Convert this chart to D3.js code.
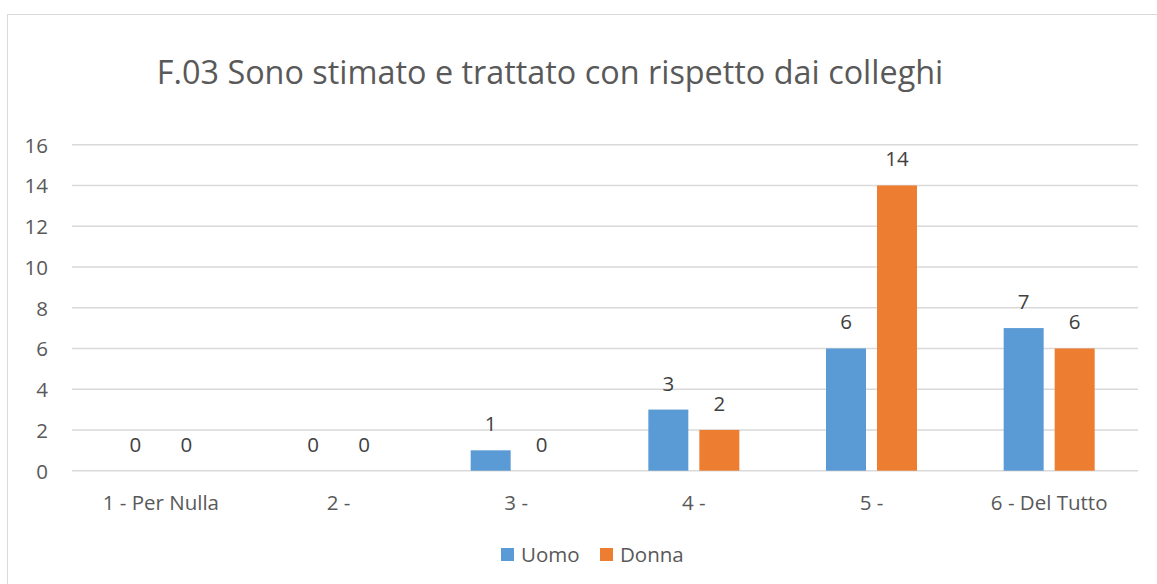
<!DOCTYPE html>
<html>
<head>
<meta charset="utf-8">
<script src="https://cdn.jsdelivr.net/npm/d3@7"></script>
<style>
  html, body { margin: 0; padding: 0; background: #fff; }
  svg { display: block; }
  text { font-family: "Open Sans", "Noto Sans", sans-serif; }
</style>
</head>
<body>
<svg id="chart" width="1157" height="584"></svg>
<script>
// Survey answers by gender
const categories = ["1 - Per Nulla", "2 -", "3 -", "4 -", "5 -", "6 - Del Tutto"];
const seriesNames = ["Uomo", "Donna"];
const uomo = [0, 0, 1, 3, 6, 7];
const donna = [0, 0, 0, 2, 14, 6];
const yTicks = [0, 2, 4, 6, 8, 10, 12, 14, 16];
const title = "F.03 Sono stimato e trattato con rispetto dai colleghi";

const colors = { Uomo: "#5B9BD5", Donna: "#ED7D31" };
const values = { Uomo: uomo, Donna: donna };
const FONT = "Open Sans, Noto Sans, sans-serif";
const LABEL_SIZE = 20.5;

const svg = d3.select("#chart");
const W = 1157, H = 584;

// outer frame of the chart area
svg.append("rect")
  .attr("x", 7.5).attr("y", 14.5)
  .attr("width", W + 10).attr("height", H + 10)
  .attr("fill", "#fff").attr("stroke", "#d9d9d9").attr("stroke-width", 1);

const plot = { left: 72, right: 1138, top: 144.7, bottom: 470.7 };

const x = d3.scaleBand().domain(categories).range([plot.left, plot.right]).paddingInner(0).paddingOuter(0);
const barW = 40, gap = 11;
const xs = d3.scaleOrdinal().domain(seriesNames)
  .range([-(barW + gap) / 2, (barW + gap) / 2]);

const y = d3.scaleLinear().domain([0, 16]).range([plot.bottom, plot.top]);

// title, sized to span the same width as the heading line
const t = svg.append("text")
  .attr("x", 550).attr("y", 84)
  .attr("text-anchor", "middle")
  .attr("fill", "#595959")
  .attr("font-size", 29)
  .text(title);
const tw = t.node().getComputedTextLength();
t.attr("font-size", 29 * 787 / tw);

// horizontal gridlines
svg.append("g")
  .selectAll("line")
  .data(yTicks)
  .join("line")
  .attr("x1", plot.left).attr("x2", plot.right)
  .attr("y1", d => y(d)).attr("y2", d => y(d))
  .attr("stroke", "#d9d9d9").attr("stroke-width", 1.4);

// y axis labels
const yAxis = d3.axisLeft(y).tickValues(yTicks).tickSize(0).tickPadding(0);
const gy = svg.append("g").attr("transform", `translate(${plot.left - 24},0)`).call(yAxis);
gy.select(".domain").remove();
gy.selectAll("text")
  .attr("font-size", LABEL_SIZE).attr("fill", "#595959")
  .attr("font-family", FONT)
  .attr("dy", "0.36em");

// x axis labels
const xAxis = d3.axisBottom(x).tickSize(0).tickPadding(0);
const gx = svg.append("g").attr("transform", `translate(0,${plot.bottom + 39})`).call(xAxis);
gx.select(".domain").remove();
gx.selectAll("text")
  .attr("font-size", LABEL_SIZE).attr("fill", "#595959")
  .attr("font-family", FONT)
  .attr("dy", 0);

// bars and value labels
const rows = [];
categories.forEach((c, i) => {
  seriesNames.forEach(s => rows.push({ cat: c, series: s, value: values[s][i] }));
});

const cx = d => x(d.cat) + x.bandwidth() / 2 + xs(d.series);

svg.append("g")
  .selectAll("rect")
  .data(rows.filter(d => d.value > 0))
  .join("rect")
  .attr("x", d => cx(d) - barW / 2)
  .attr("width", barW)
  .attr("y", d => y(d.value))
  .attr("height", d => y(0) - y(d.value))
  .attr("fill", d => colors[d.series]);

svg.append("g")
  .selectAll("text")
  .data(rows)
  .join("text")
  .attr("x", cx)
  .attr("y", d => y(d.value) - 19)
  .attr("text-anchor", "middle")
  .attr("font-size", LABEL_SIZE)
  .attr("fill", "#404040")
  .text(d => d.value);

// legend
const legend = svg.append("g");
const legendPos = { Uomo: 501, Donna: 600 };
seriesNames.forEach(s => {
  legend.append("rect")
    .attr("x", legendPos[s]).attr("y", 548)
    .attr("width", 13).attr("height", 13)
    .attr("fill", colors[s]);
  legend.append("text")
    .attr("x", legendPos[s] + 20).attr("y", 561.5)
    .attr("font-size", LABEL_SIZE).attr("fill", "#595959")
    .text(s);
});
</script>
</body>
</html>
